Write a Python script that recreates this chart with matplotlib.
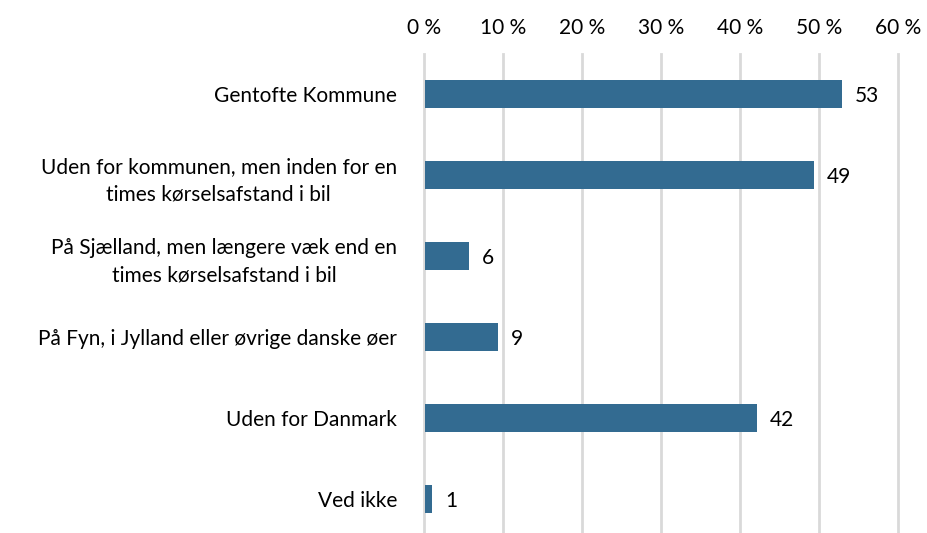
import matplotlib
matplotlib.use("Agg")
import matplotlib.pyplot as plt

categories = [
    "Gentofte Kommune",
    "Uden for kommunen, men inden for en\ntimes kørselsafstand i bil",
    "På Sjælland, men længere væk end en\ntimes kørselsafstand i bil",
    "På Fyn, i Jylland eller øvrige danske øer",
    "Uden for Danmark",
    "Ved ikke",
]
values = [52.7, 49.2, 5.5, 9.2, 42.0, 0.9]
labels = ["53", "49", "6", "9", "42", "1"]
ticks = [0, 10, 20, 30, 40, 50, 60]
tick_labels = ["0 %", "10 %", "20 %", "30 %", "40 %", "50 %", "60 %"]

plt.rcParams['font.family'] = ['Lato', 'DejaVu Sans']
W, H = 928, 533
fig = plt.figure(figsize=(W / 100, H / 100), dpi=100)
left, right, top, bottom = 424, 898, 53.5, 533
ax = fig.add_axes([left / W, (H - bottom) / H, (right - left) / W, (bottom - top) / H])

y = list(range(len(categories)))
ax.barh(y, values, height=0.35, color="#336b91", zorder=3, left=0.15)
for yi, v, lab in zip(y, values, labels):
    ax.text(v + 1.8, yi + 0.03, lab, va="center", ha="left", fontsize=15, color="#000000")

for t in ticks:
    ax.axvline(t, color="#d9d9d9", lw=2, zorder=1, clip_on=False)

ax.set_xlim(0, 60)
ax.set_ylim(-0.5 + (bottom - top) / 81.0, -0.5)
ax.xaxis.tick_top()
ax.set_xticks(ticks)
ax.set_xticklabels(tick_labels, fontsize=15)
ax.set_yticks(y)
ax.set_yticklabels(categories, fontsize=15, multialignment="center", linespacing=1.45)
ax.tick_params(axis="both", length=0)
ax.tick_params(axis="x", pad=11.5)
ax.tick_params(axis="y", pad=19.5)
for s in ax.spines.values():
    s.set_visible(False)

fig.savefig("out.png", dpi=100)
